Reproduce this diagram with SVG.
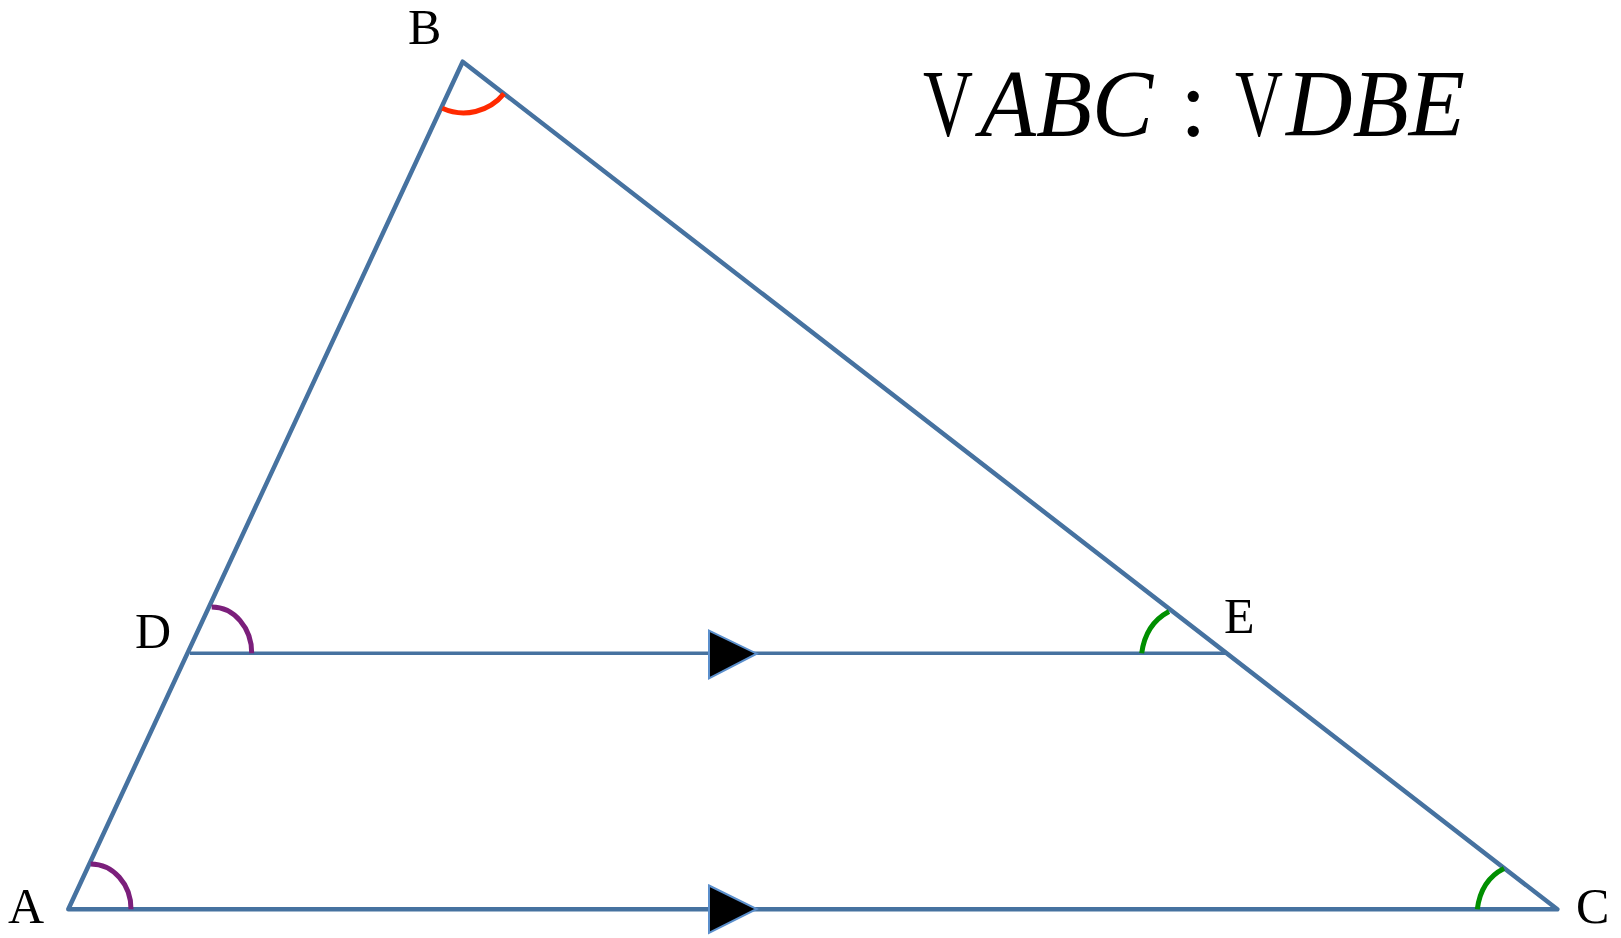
<svg xmlns="http://www.w3.org/2000/svg" width="1621" height="938" viewBox="0 0 1621 938">
<style>
.edge{stroke:#4672a0;stroke-width:4.5;fill:none;stroke-linejoin:round;stroke-linecap:round}
.par{stroke:#4672a0;stroke-width:3.5;fill:none}
.tri{fill:#000;stroke:#5b8fcc;stroke-width:2}
.lbl{font-family:"Liberation Serif","Times New Roman",serif;font-size:50px;fill:#000}
.ttl{font-family:"Liberation Serif","Times New Roman",serif;font-size:96px;fill:#000}
.it{font-style:italic}
.arc{fill:none;stroke-width:5}
</style>
<rect width="1621" height="938" fill="#fff"/>
<g id="connectors">
<polygon class="edge" points="68.3,909.3 462.7,61.7 1557.3,909.3"/>
<line class="par" x1="190" y1="653.3" x2="1225" y2="653.3"/>
<polygon class="tri" points="709,630.7 756.7,653.7 709,678.3"/>
<polygon class="tri" points="709,885.5 756.7,909 709,933"/>
</g>
<g id="angles">
<path class="arc" stroke="#7b1f7b" d="M90.7 864 A40.3 45 0 0 1 131 909.3"/>
<path class="arc" stroke="#7b1f7b" d="M211.7 607 A40 46 0 0 1 251.7 653.3"/>
<path class="arc" stroke="#ff2a00" d="M442.3 108.3 A52 52 0 0 0 504 93.7"/>
<path class="arc" stroke="#008f00" d="M1477.3 909.3 Q1481 880 1504 868.5"/>
<path class="arc" stroke="#008f00" d="M1141.7 653.3 Q1145.5 624 1169 611.5"/>
</g>
<g id="node-A"><text class="lbl" x="8" y="923">A</text></g>
<g id="node-B"><text class="lbl" x="408" y="44">B</text></g>
<g id="node-C"><text class="lbl" x="1576" y="923">C</text></g>
<g id="node-D"><text class="lbl" x="135" y="648">D</text></g>
<g id="node-E"><text class="lbl" x="1224" y="633">E</text></g>
<g id="title">
<text class="ttl" y="136"><tspan x="923" textLength="50" lengthAdjust="spacingAndGlyphs">V</tspan><tspan class="it" x="980" textLength="173" lengthAdjust="spacingAndGlyphs">ABC</tspan><tspan x="1180">:</tspan><tspan x="1235" textLength="48" lengthAdjust="spacingAndGlyphs">V</tspan><tspan class="it" x="1286" textLength="179" lengthAdjust="spacingAndGlyphs">DBE</tspan></text>
</g>
</svg>
